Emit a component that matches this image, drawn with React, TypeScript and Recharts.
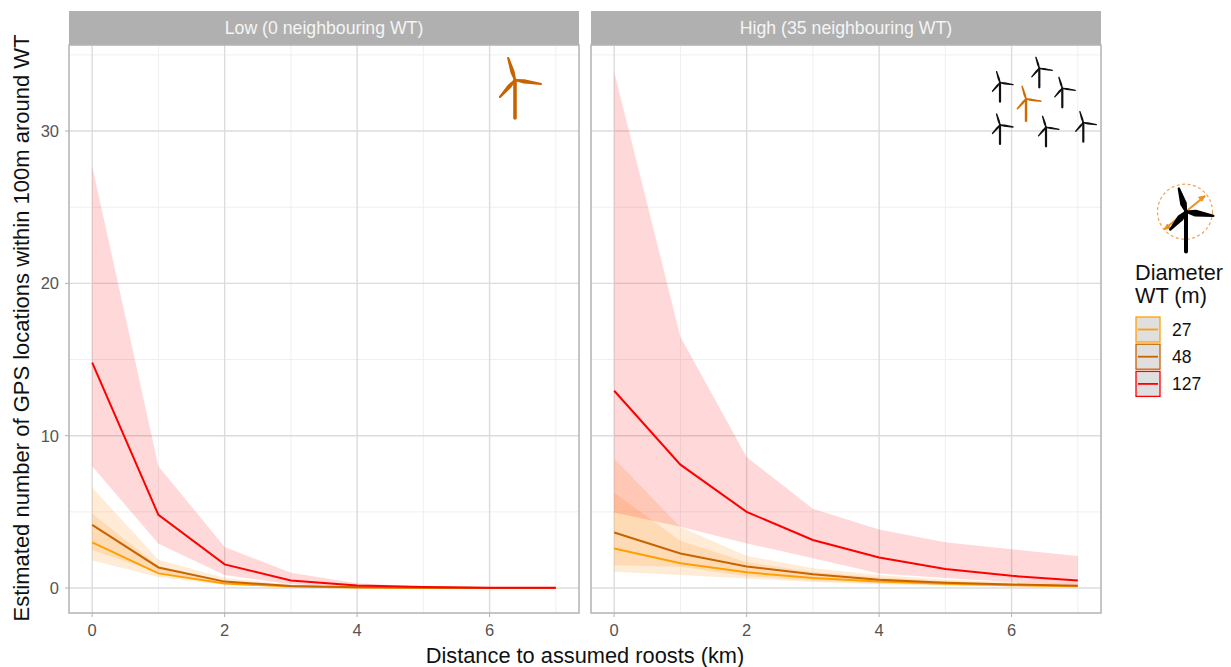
import React from 'react';
import { ComposedChart, Area, Line, XAxis, YAxis, CartesianGrid } from 'recharts';

const distances = [0, 1, 2, 3, 4, 5, 6, 7];
const low27 = [3.0, 0.96, 0.3, 0.1, 0.04, 0.015, 0.005, 0.002];
const low27Lo = [1.8, 0.72, 0.2, 0.06, 0.02, 0.007, 0.002, 0];
const low27Hi = [4.9, 1.45, 0.47, 0.16, 0.06, 0.02, 0.008, 0.003];
const low48 = [4.15, 1.35, 0.42, 0.14, 0.05, 0.02, 0.007, 0.002];
const low48Lo = [2.5, 0.98, 0.3, 0.09, 0.03, 0.01, 0.003, 0.001];
const low48Hi = [6.6, 1.85, 0.65, 0.22, 0.08, 0.03, 0.01, 0.004];
const low127 = [14.8, 4.8, 1.55, 0.5, 0.17, 0.06, 0.02, 0.01];
const low127Lo = [8.0, 2.9, 0.85, 0.25, 0.08, 0.02, 0.01, 0];
const low127Hi = [27.7, 8.0, 2.7, 1.0, 0.32, 0.1, 0.03, 0.01];

const high27 = [2.6, 1.63, 1.03, 0.66, 0.43, 0.28, 0.18, 0.12];
const high27Lo = [1.07, 0.85, 0.63, 0.4, 0.26, 0.16, 0.1, 0.05];
const high27Hi = [6.25, 3.1, 1.7, 1.05, 0.7, 0.45, 0.3, 0.2];
const high48 = [3.65, 2.27, 1.42, 0.9, 0.55, 0.35, 0.23, 0.15];
const high48Lo = [1.5, 1.4, 0.78, 0.48, 0.3, 0.2, 0.12, 0.07];
const high48Hi = [8.5, 4.0, 2.1, 1.3, 0.85, 0.55, 0.4, 0.3];
const high127 = [12.95, 8.1, 5.0, 3.15, 2.0, 1.25, 0.8, 0.5];
const high127Lo = [4.95, 4.03, 2.93, 1.95, 0.96, 0.65, 0.4, 0.2];
const high127Hi = [33.9, 16.5, 8.6, 5.2, 3.85, 3.0, 2.55, 2.1];

const xTicks = [0, 2, 4, 6];
const xMinor = [1, 3, 5, 7];
const yTicks = [0, 10, 20, 30];
const yMinor = [5, 15, 25, 35];
const xDomain = [-0.35, 7.35];
const yDomain = [-1.64, 35.65];

const diameters = ['27', '48', '127'];
const colors: Record<string, string> = { '27': '#ffa000', '48': '#c86400', '127': '#ff0000' };
const bandColors: Record<string, string> = { '27': '#ffa030', '48': '#ff9a30', '127': '#ff0000' };

const lowData = distances.map((d, i) => ({
  d,
  m27: low27[i], r27: [low27Lo[i], low27Hi[i]],
  m48: low48[i], r48: [low48Lo[i], low48Hi[i]],
  m127: low127[i], r127: [low127Lo[i], low127Hi[i]],
}));
const highData = distances.map((d, i) => ({
  d,
  m27: high27[i], r27: [high27Lo[i], high27Hi[i]],
  m48: high48[i], r48: [high48Lo[i], high48Hi[i]],
  m127: high127[i], r127: [high127Lo[i], high127Hi[i]],
}));

const FONT = '"Liberation Sans", Arial, sans-serif';
const PANEL_W = 510;
const PANEL_H = 568;
const MARGIN_TOP = 45;
const CHART_H = 667;
const TICK_FONT = 16.5;

function XTick({ x, y, payload }: any) {
  return (
    <text x={x} y={y + 17} textAnchor="middle" fill="#555" fontFamily={FONT} style={{ fontSize: TICK_FONT }}>
      {payload.value}
    </text>
  );
}
function YTick({ x, y, payload }: any) {
  return (
    <text x={x - 4} y={y + 6} textAnchor="end" fill="#555" fontFamily={FONT} style={{ fontSize: TICK_FONT }}>
      {payload.value}
    </text>
  );
}

function Panel({ data, left, showY }: { data: any[]; left: number; showY: boolean }) {
  const yw = showY ? 69 : 0;
  return (
    <div style={{ position: 'absolute', left, top: 0 }}>
      <ComposedChart
        width={PANEL_W + yw}
        height={CHART_H}
        data={data}
        margin={{ top: MARGIN_TOP, right: 0, bottom: CHART_H - MARGIN_TOP - PANEL_H - 30, left: 0 }}
      >
        <CartesianGrid stroke="#efefef" strokeWidth={1} horizontalValues={yMinor} verticalValues={xMinor} />
        <CartesianGrid stroke="#dcdcdc" strokeWidth={1.4} horizontalValues={yTicks} verticalValues={xTicks} />
        <XAxis
          dataKey="d"
          type="number"
          domain={xDomain}
          ticks={xTicks}
          height={30}
          axisLine={false}
          tickSize={4}
          tickLine={{ stroke: '#b3b3b3' }}
          tick={<XTick />}
          allowDataOverflow
        />
        <YAxis
          type="number"
          domain={yDomain}
          ticks={yTicks}
          width={69}
          hide={!showY}
          axisLine={false}
          tickSize={4}
          tickLine={{ stroke: '#b3b3b3' }}
          tick={<YTick />}
          allowDataOverflow
        />
        {diameters.map((k) => (
          <Area
            key={'r' + k}
            dataKey={'r' + k}
            type="linear"
            stroke="none"
            fill={bandColors[k]}
            fillOpacity={k === '127' ? 0.15 : 0.2}
            dot={false}
            activeDot={false}
            isAnimationActive={false}
          />
        ))}
        {diameters.map((k) => (
          <Line
            key={'m' + k}
            dataKey={'m' + k}
            type="linear"
            stroke={colors[k]}
            strokeWidth={2}
            dot={false}
            activeDot={false}
            isAnimationActive={false}
          />
        ))}
      </ComposedChart>
    </div>
  );
}

const blades = [
  [-3.4, -11],
  [13, 2],
  [-7.5, 8.5],
];

function Turbine({ x, y, s, color, w, taper }: { x: number; y: number; s: number; color: string; w: number; taper: number }) {
  return (
    <g>
      <line x1={x} y1={y} x2={x} y2={y + 19 * s} stroke={color} strokeWidth={w} strokeLinecap="round" />
      {blades.map(([dx, dy], i) => {
        const len = Math.hypot(dx, dy);
        const nx = (-dy / len) * w * taper;
        const ny = (dx / len) * w * taper;
        const mx = x + dx * s * 0.35;
        const my = y + dy * s * 0.35;
        const tx = x + dx * s;
        const ty = y + dy * s;
        return (
          <path
            key={i}
            d={`M${x} ${y}L${mx + nx} ${my + ny}L${tx} ${ty}L${mx - nx} ${my - ny}Z`}
            fill={color}
            stroke={color}
            strokeWidth={w * 0.6}
            strokeLinejoin="round"
          />
        );
      })}
    </g>
  );
}

const blackHubs = [
  [1000, 82.7],
  [1039.3, 68.3],
  [1062.3, 88.3],
  [1000, 125],
  [1046, 127.3],
  [1083.3, 122.7],
];

function Strip({ left, label }: { left: number; label: string }) {
  return (
    <div
      style={{
        position: 'absolute', left, top: 11, width: PANEL_W, height: 34, background: '#b0b0b0',
        color: '#f5f5f5', fontFamily: FONT, fontSize: 17.7, lineHeight: '35px', textAlign: 'center',
      }}
    >
      {label}
    </div>
  );
}

export default function App() {
  return (
    <div style={{ position: 'absolute', left: 0, top: 0, width: 1231, height: 667, background: '#fff', overflow: 'hidden' }}>
      <Panel data={lowData} left={0} showY />
      <Panel data={highData} left={591} showY={false} />
      <Strip left={69} label="Low (0 neighbouring WT)" />
      <Strip left={591} label="High (35 neighbouring WT)" />
      <svg width={1231} height={667} style={{ position: 'absolute', left: 0, top: 0, pointerEvents: 'none' }}>
        <rect x={69} y={45} width={PANEL_W} height={PANEL_H} fill="none" stroke="#b3b3b3" strokeWidth={1.5} />
        <rect x={591} y={45} width={PANEL_W} height={PANEL_H} fill="none" stroke="#b3b3b3" strokeWidth={1.5} />
        <text transform="translate(29,328) rotate(-90)" textAnchor="middle" fontFamily={FONT} fontSize={22} fill="#111">
          Estimated number of GPS locations within 100m around WT
        </text>
        <text x={585} y={663} textAnchor="middle" fontFamily={FONT} fontSize={21.8} fill="#111">
          Distance to assumed roosts (km)
        </text>
        <Turbine x={515} y={80} s={2} color="#c86400" w={3.6} taper={0.3} />
        {blackHubs.map(([x, y], i) => (
          <Turbine key={i} x={x} y={y} s={1} color="#111" w={2.2} taper={0.2} />
        ))}
        <Turbine x={1026} y={99} s={1.15} color="#d06a00" w={2.4} taper={0.2} />
        <circle cx={1185} cy={211.7} r={27.5} fill="none" stroke="#f5a050" strokeWidth={1.2} strokeDasharray="3 2.5" />
        <line x1={1164.3} y1={229.3} x2={1205} y2={196} stroke="#f09020" strokeWidth={2} />
        <path d="M1205 196l-6.5 1.2 3.4 4zM1164.3 229.3l6.5-1.2-3.4-4z" fill="#f09020" stroke="#f09020" />
        <Turbine x={1186} y={211.7} s={2.1} color="#000" w={4} taper={0.55} />
        <text x={1135} y={280} fontFamily={FONT} fontSize={21.7} fill="#111">Diameter</text>
        <text x={1135} y={303} fontFamily={FONT} fontSize={21.7} fill="#111">WT (m)</text>
        {diameters.map((k, i) => {
          const y = 317 + i * 27.2;
          return (
            <g key={k}>
              <rect x={1136} y={y} width={24} height={25} fill="#dfdfdf" stroke={colors[k]} strokeWidth={1.3} />
              <line x1={1138} x2={1158} y1={y + 12.5} y2={y + 12.5} stroke={colors[k]} strokeWidth={1.8} />
              <text x={1172} y={y + 19} fontFamily={FONT} fontSize={17.5} fill="#111">{k}</text>
            </g>
          );
        })}
      </svg>
    </div>
  );
}
